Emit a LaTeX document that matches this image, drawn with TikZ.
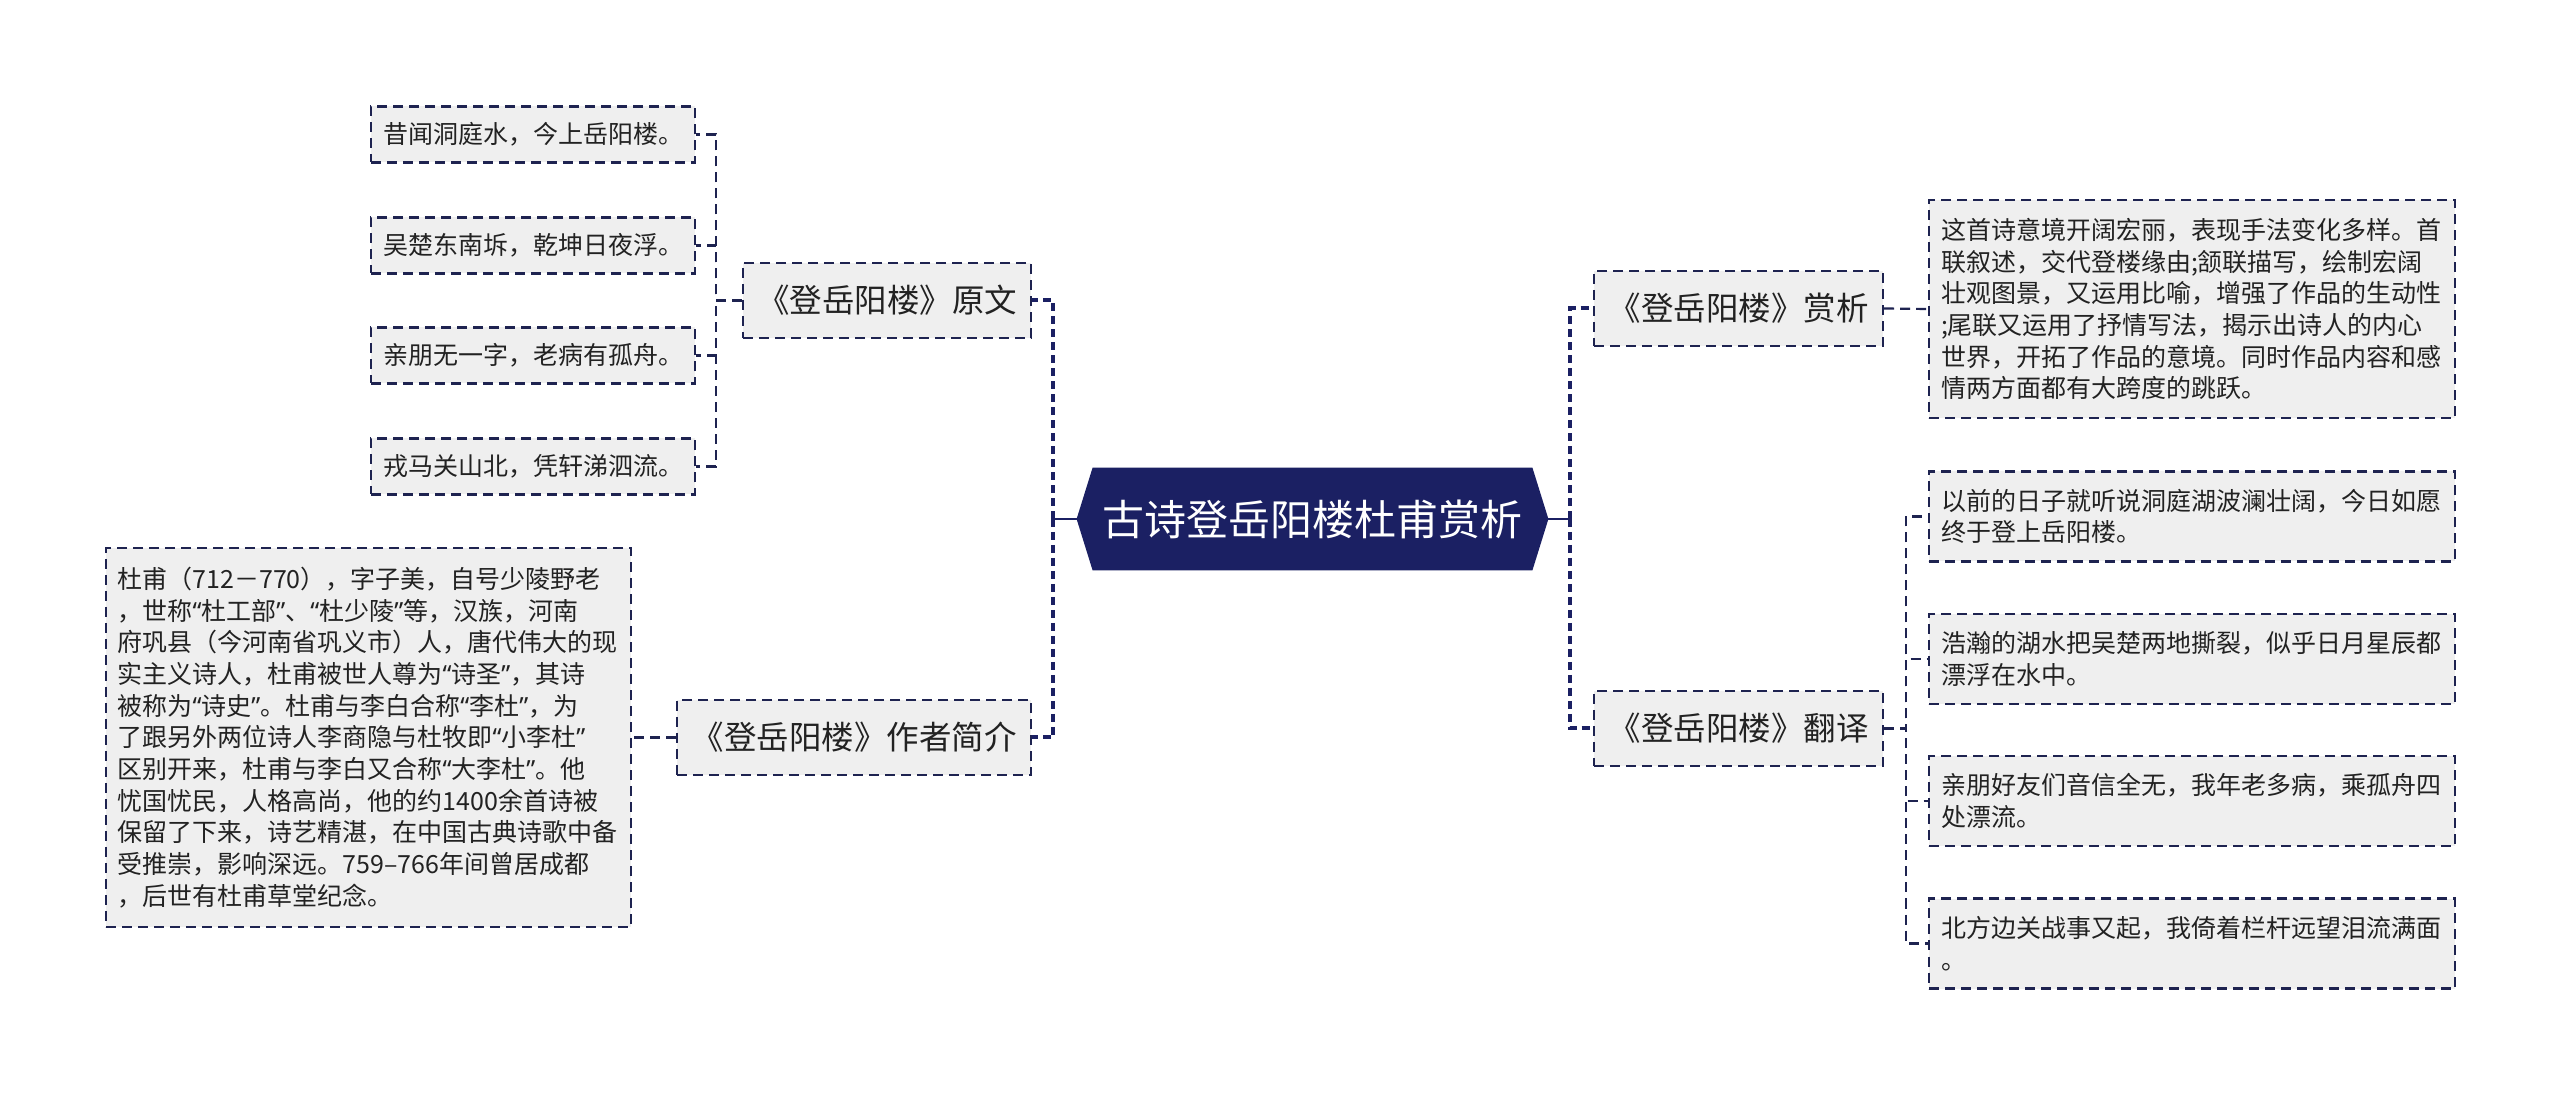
\documentclass[tikz,border=0pt]{standalone}
\usepackage{fontspec}
\newfontfamily\cjk{Noto Sans CJK SC}
\newfontfamily\latq{Noto Sans}
\newcommand\oq{{\latq “}}
\newcommand\cq{{\latq ”}}
\usetikzlibrary{backgrounds}
\definecolor{navy}{HTML}{1B2063}
\definecolor{edge}{HTML}{1E2350}
\definecolor{boxfill}{HTML}{EFEFEF}
\definecolor{txt}{HTML}{222222}
\tikzset{
  leafbox/.style={draw=edge, fill=boxfill, line width=1.1pt, dash pattern=on 5pt off 3pt,
    text=txt, inner sep=0pt, font=\cjk\fontsize{12.5pt}{15.85pt}\selectfont},
  leafrow/.style={leafbox, minimum width=162pt, minimum height=28pt},
  midbox/.style={leafbox, minimum height=37.5pt, font=\cjk\fontsize{16.25pt}{20pt}\selectfont},
  descbox/.style={leafbox, text width=251pt, inner xsep=6pt, align=left},
  rootbox/.style={inner sep=0pt, minimum width=235.5pt, minimum height=51pt, text=white,
    font=\cjk\fontsize{21pt}{25pt}\selectfont},
  stub/.style={draw=navy, line width=1.3pt},
  trunk/.style={draw=navy, line width=2pt, dash pattern=on 4pt off 2.5pt},
  twig/.style={draw=edge, line width=1.1pt, dash pattern=on 5pt off 3pt}
}
\begin{document}
\begin{tikzpicture}[x=0.5pt, y=-0.5pt]
\useasboundingbox (0,0) rectangle (2560,1095);
% root
\node[rootbox] (root) at (1312.5,519) {古诗登岳阳楼杜甫赏析};
\begin{scope}[on background layer]
\fill[white] (0,0) rectangle (2560,1095);
\fill[navy] (root.west) -- ([xshift=8pt]root.north west) -- ([xshift=-8pt]root.north east)
  -- (root.east) -- ([xshift=-8pt]root.south east) -- ([xshift=8pt]root.south west) -- cycle;
\end{scope}
% left side
\node[midbox, minimum width=144pt] (orig) at (887,300.5) {《登岳阳楼》原文};
\node[midbox, minimum width=177pt] (auth) at (854,737.5) {《登岳阳楼》作者简介};
\node[leafrow] (o1) at (533,134.5) {昔闻洞庭水，今上岳阳楼。};
\node[leafrow] (o2) at (533,245.5) {吴楚东南坼，乾坤日夜浮。};
\node[leafrow] (o3) at (533,355.5) {亲朋无一字，老病有孤舟。};
\node[leafrow] (o4) at (533,466.5) {戎马关山北，凭轩涕泗流。};
\node[descbox, inner xsep=5.75pt, minimum height=189.5pt] (authd) at (368.5,737.5) {杜甫（712－770），字子美，自号少陵野老\\
，世称\oq{}杜工部\cq{}、\oq{}杜少陵\cq{}等，汉族，河南\\
府巩县（今河南省巩义市）人，唐代伟大的现\\
实主义诗人，杜甫被世人尊为\oq{}诗圣\cq{}，其诗\\
被称为\oq{}诗史\cq{}。杜甫与李白合称\oq{}李杜\cq{}，为\\
了跟另外两位诗人李商隐与杜牧即\oq{}小李杜\cq{}\\
区别开来，杜甫与李白又合称\oq{}大李杜\cq{}。他\\
忧国忧民，人格高尚，他的约1400余首诗被\\
保留了下来，诗艺精湛，在中国古典诗歌中备\\
受推崇，影响深远。759–766年间曾居成都\\
，后世有杜甫草堂纪念。};
% right side
\node[midbox, minimum width=144.5pt] (sx) at (1738.5,308.5) {《登岳阳楼》赏析};
\node[midbox, minimum width=144.5pt] (fy) at (1738.5,728.5) {《登岳阳楼》翻译};
\node[descbox, minimum height=109pt] (sxd) at (2192,309) {这首诗意境开阔宏丽，表现手法变化多样。首\\
联叙述，交代登楼缘由;颔联描写，绘制宏阔\\
壮观图景，又运用比喻，增强了作品的生动性\\
;尾联又运用了抒情写法，揭示出诗人的内心\\
世界，开拓了作品的意境。同时作品内容和感\\
情两方面都有大跨度的跳跃。};
\node[descbox, minimum height=45pt] (t1) at (2192,516.5) {以前的日子就听说洞庭湖波澜壮阔，今日如愿\\终于登上岳阳楼。};
\node[descbox, minimum height=45pt] (t2) at (2192,659) {浩瀚的湖水把吴楚两地撕裂，似乎日月星辰都\\漂浮在水中。};
\node[descbox, minimum height=45pt] (t3) at (2192,801) {亲朋好友们音信全无，我年老多病，乘孤舟四\\处漂流。};
\node[descbox, minimum height=45pt] (t4) at (2192,943.5) {北方边关战事又起，我倚着栏杆远望泪流满面\\。};
% connectors
\coordinate (lj) at (1053,519);
\coordinate (rj) at (1570,519);
\draw[stub] (root.west) -- (lj);
\draw[stub] (root.east) -- (rj);
\draw[trunk] (lj) |- (orig.east);
\draw[trunk] (lj) |- (auth.east);
\draw[trunk] (rj) |- (sx.west);
\draw[trunk] (rj) |- (fy.west);
\foreach \n in {o1,o2,o3,o4} \draw[twig] (orig.west) -- ++(-26,0) |- (\n.east);
\draw[twig] (auth.west) -- (authd.east);
\draw[twig] (sx.east) -- (sxd.west);
\foreach \n in {t1,t2,t3,t4} \draw[twig] (fy.east) -- ++(22,0) |- (\n.west);
\end{tikzpicture}
\end{document}
